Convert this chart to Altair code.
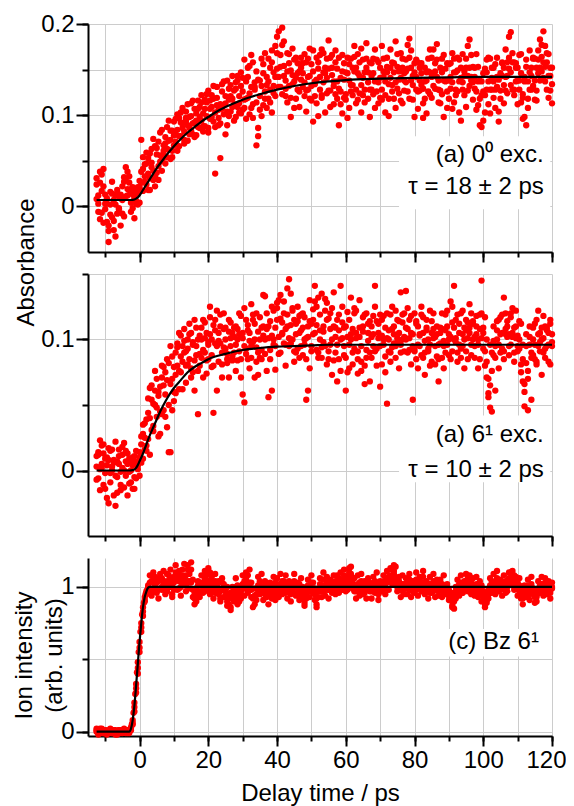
import altair as alt
import pandas as pd

# ---------------- data ----------------
# pump-probe delay grid (ps), shared by all three traces
delay_ps = [
    -12.5, -12, -11.5, -11, -10.5, -10, -9.5, -9, -8.5, -8, -7.5, -7, -6.5, -6, -5.5, -5, -4.5, -4, -3.5, -3,
    -2.5, -2, -1.5, -1, -0.5, 0, 0.5, 1, 1.5, 2, 2.5, 3, 3.5, 4, 4.5, 5, 5.5, 6, 6.5, 7,
    7.5, 8, 8.5, 9, 9.5, 10, 10.5, 11, 11.5, 12, 12.5, 13, 13.5, 14, 14.5, 15, 15.5, 16, 16.5, 17,
    17.5, 18, 18.5, 19, 19.5, 20, 20.5, 21, 21.5, 22, 22.5, 23, 23.5, 24, 24.5, 25, 25.5, 26, 26.5, 27,
    27.5, 28, 28.5, 29, 29.5, 30, 30.5, 31, 31.5, 32, 32.5, 33, 33.5, 34, 34.5, 35, 35.5, 36, 36.5, 37,
    37.5, 38, 38.5, 39, 39.5, 40, 40.5, 41, 41.5, 42, 42.5, 43, 43.5, 44, 44.5, 45, 45.5, 46, 46.5, 47,
    47.5, 48, 48.5, 49, 49.5, 50, 50.5, 51, 51.5, 52, 52.5, 53, 53.5, 54, 54.5, 55, 55.5, 56, 56.5, 57,
    57.5, 58, 58.5, 59, 59.5, 60, 60.5, 61, 61.5, 62, 62.5, 63, 63.5, 64, 64.5, 65, 65.5, 66, 66.5, 67,
    67.5, 68, 68.5, 69, 69.5, 70, 70.5, 71, 71.5, 72, 72.5, 73, 73.5, 74, 74.5, 75, 75.5, 76, 76.5, 77,
    77.5, 78, 78.5, 79, 79.5, 80, 80.5, 81, 81.5, 82, 82.5, 83, 83.5, 84, 84.5, 85, 85.5, 86, 86.5, 87,
    87.5, 88, 88.5, 89, 89.5, 90, 90.5, 91, 91.5, 92, 92.5, 93, 93.5, 94, 94.5, 95, 95.5, 96, 96.5, 97,
    97.5, 98, 98.5, 99, 99.5, 100, 100.5, 101, 101.5, 102, 102.5, 103, 103.5, 104, 104.5, 105, 105.5, 106, 106.5, 107,
    107.5, 108, 108.5, 109, 109.5, 110, 110.5, 111, 111.5, 112, 112.5, 113, 113.5, 114, 114.5, 115, 115.5, 116, 116.5, 117,
    117.5, 118, 118.5, 119, 119.5, 120,
]

# (a) 0^0 excitation, absorbance in units of 1e-3 (three scans)
abs00_scan1 = [
    31, 12, 38, -7, 22, 3, -17, -39, -9, 14, -26, 2, -8, 11, -21, 7, 27, 43, 19, 33,
    4, 21, -13, 14, 2, 28, 73, 17, 46, 24, 53, 31, 63, 39, 22, 57, 44, 81, 51, 67,
    47, 87, 62, 73, 54, 93, 71, 61, 97, 77, 86, 69, 104, 89, 79, 113, 91, 76, 102, 87,
    109, 94, 82, 117, 99, 86, 107, 122, 93, 36, 111, 97, 53, 126, 101, 113, 89, 129, 104, 118,
    94, 136, 109, 121, 102, 141, 117, 96, 152, 124, 108, 158, 131, 67, 86, 121, 99, 146, 126, 108,
    162, 128, 103, 147, 176, 151, 192, 166, 123, 181, 138, 114, 157, 98, 134, 161, 118, 146, 109, 152,
    131, 167, 104, 142, 118, 156, 93, 137, 113, 151, 166, 122, 147, 103, 162, 182, 127, 152, 112, 171,
    118, 89, 141, 102, 157, 123, 146, 108, 162, 133, 176, 152, 117, 143, 103, 161, 128, 179, 147, 98,
    157, 123, 172, 138, 113, 152, 128, 162, 103, 147, 118, 172, 133, 157, 108, 167, 139, 116, 152, 127,
    161, 177, 184, 138, 117, 157, 128, 107, 152, 133, 97, 118, 147, 162, 123, 142, 172, 148, 178, 128,
    113, 147, 98, 137, 157, 118, 142, 107, 162, 128, 149, 103, 141, 167, 122, 152, 176, 183, 138, 117,
    152, 106, 137, 89, 87, 126, 103, 147, 112, 162, 128, 152, 108, 142, 93, 118, 157, 133, 172, 143,
    186, 191, 158, 128, 152, 112, 138, 167, 123, 98, 89, 108, 147, 128, 162, 117, 152, 171, 138, 177,
    192, 153, 128, 167, 143, 113,
]
abs00_scan2 = [
    8, -6, 26, 35, -18, 13, 3, -27, 16, -12, 7, -33, 14, -3, 9, 22, -11, 29, 12, 18,
    19, -2, 16, 6, 21, 4, 38, 54, 27, 59, 36, 18, 48, 74, 33, 64, 29, 56, 84, 61,
    76, 63, 94, 52, 83, 67, 79, 101, 66, 92, 108, 73, 94, 72, 98, 83, 116, 92, 78, 107,
    86, 114, 102, 88, 123, 81, 116, 98, 132, 87, 119, 106, 91, 134, 111, 79, 138, 99, 121, 143,
    127, 98, 143, 113, 132, 106, 161, 118, 142, 101, 166, 112, 136, 148, 77, 138, 162, 111, 168, 133,
    118, 152, 171, 124, 142, 186, 131, 153, 196, 143, 121, 168, 132, 149, 173, 108, 141, 157, 126, 163,
    146, 121, 158, 128, 173, 116, 148, 134, 163, 99, 142, 119, 168, 146, 124, 151, 109, 166, 137, 123,
    151, 129, 112, 166, 119, 147, 97, 156, 133, 122, 148, 113, 167, 124, 173, 141, 114, 152, 118, 158,
    128, 146, 108, 161, 136, 119, 176, 142, 122, 153, 99, 141, 158, 118, 181, 129, 148, 168, 113, 146,
    136, 151, 118, 171, 143, 98, 142, 158, 127, 146, 113, 137, 102, 148, 172, 119, 146, 129, 161, 114,
    152, 123, 166, 138, 108, 156, 129, 168, 114, 147, 126, 161, 94, 136, 148, 109, 143, 132, 166, 153,
    129, 167, 111, 138, 122, 94, 151, 128, 163, 102, 141, 119, 156, 131, 104, 146, 158, 113, 142, 124,
    151, 133, 168, 122, 157, 138, 166, 114, 96, 137, 153, 118, 171, 143, 132, 162, 116, 146, 183, 148,
    141, 176, 158, 119, 152, 134,
]
abs00_scan3 = [
    24, 3, -14, 17, 41, -3, 9, -21, 2, 27, -16, 12, 18, -2, 13, -8, 32, 11, 38, 26,
    -6, 13, 9, 3, 16, 21, 26, 41, 33, 47, 18, 58, 43, 29, 66, 37, 71, 49, 39, 57,
    69, 54, 72, 83, 61, 78, 96, 84, 77, 103, 91, 82, 97, 112, 86, 99, 79, 107, 94, 116,
    98, 122, 88, 107, 114, 127, 96, 109, 118, 103, 131, 89, 112, 107, 137, 121, 104, 117, 133, 109,
    112, 129, 138, 103, 147, 126, 108, 137, 119, 154, 131, 97, 128, 114, 139, 106, 132, 156, 118, 142,
    137, 114, 158, 132, 121, 168, 142, 131, 177, 154, 129, 148, 167, 119, 144, 137, 163, 128, 148, 139,
    157, 136, 127, 162, 143, 132, 171, 121, 139, 158, 128, 172, 136, 152, 141, 127, 163, 144, 132, 158,
    137, 163, 126, 148, 139, 117, 163, 138, 126, 152, 164, 128, 146, 158, 133, 122, 147, 162, 136, 128,
    143, 162, 137, 126, 158, 141, 117, 148, 137, 163, 134, 152, 126, 147, 136, 153, 124, 141, 162, 138,
    148, 126, 163, 152, 133, 147, 161, 126, 138, 157, 129, 152, 138, 126, 147, 163, 132, 157, 142, 138,
    127, 162, 138, 151, 126, 138, 157, 136, 147, 122, 163, 137, 152, 128, 143, 162, 127, 152, 142, 136,
    142, 126, 153, 118, 137, 146, 122, 161, 137, 128, 152, 137, 128, 163, 139, 127, 143, 152, 127, 158,
    163, 147, 128, 158, 137, 152, 128, 146, 119, 142, 161, 137, 128, 152, 163, 138, 127, 161, 152, 164,
    158, 137, 168, 143, 127, 152,
]

# (a) 6^1 excitation, absorbance in units of 1e-3 (three scans)
abs61_scan1 = [
    11, -6, 23, 2, 13, -14, 4, 17, -9, 3, -19, -27, 7, 16, -11, 2, 21, -4, 13, -1,
    7, -14, 11, -6, 4, 14, 26, 9, 36, 19, 44, 63, 31, 51, 76, 41, 57, 28, 71, 46,
    58, 33, 82, 14, 87, 53, 73, 97, 62, 103, 83, 108, 67, 93, 112, 78, 98, 61, 88, 43,
    103, 86, 92, 113, 74, 98, 117, 88, 44, 107, 122, 83, 97, 71, 108, 93, 82, 106, 113, 87,
    102, 76, 108, 91, 118, 58, 52, 93, 107, 78, 127, 98, 112, 83, 73, 117, 92, 103, 133, 108,
    56, 92, 103, 122, 77, 128, 102, 134, 113, 97, 108, 139, 146, 97, 122, 83, 112, 93, 118, 107,
    88, 117, 54, 102, 78, 112, 123, 141, 92, 132, 107, 86, 98, 122, 128, 91, 108, 73, 136, 102,
    68, 107, 141, 113, 88, 61, 102, 78, 132, 108, 93, 122, 74, 102, 83, 117, 66, 92, 112, 68,
    102, 118, 141, 93, 112, 64, 103, 118, 87, 51, 107, 83, 108, 97, 122, 98, 78, 136, 113, 102,
    137, 108, 92, 118, 54, 93, 112, 78, 103, 88, 117, 73, 107, 93, 122, 83, 108, 102, 87, 68,
    97, 108, 78, 107, 122, 88, 102, 113, 141, 98, 83, 112, 93, 122, 78, 107, 113, 127, 88, 112,
    102, 118, 78, 108, 145, 93, 117, 83, 59, 48, 45, 88, 61, 107, 78, 117, 93, 132, 108, 102,
    88, 117, 102, 83, 122, 103, 93, 112, 68, 49, 82, 46, 102, 54, 88, 112, 83, 122, 98, 73,
    118, 93, 107, 83, 112, 98,
]
abs61_scan2 = [
    -7, 14, 1, 19, -11, 9, -21, 8, -2, 16, 6, -4, -17, 11, -1, 18, -13, 7, -19, 9,
    -9, 4, -14, 7, 1, -4, 6, 28, 16, 39, 24, 12, 54, 34, 61, 48, 26, 64, 43, 79,
    41, 69, 14, 66, 46, 79, 59, 94, 76, 87, 62, 99, 91, 81, 104, 71, 96, 84, 109, 76,
    89, 109, 71, 101, 84, 96, 104, 79, 111, 97, 61, 99, 119, 81, 94, 109, 89, 71, 101, 84,
    109, 96, 84, 104, 71, 101, 124, 89, 111, 99, 86, 119, 71, 94, 106, 86, 109, 134, 89, 76,
    101, 114, 61, 96, 109, 124, 89, 116, 104, 129, 96, 119, 101, 111, 124, 91, 104, 114, 86, 119,
    109, 96, 101, 61, 114, 91, 104, 129, 111, 86, 119, 94, 106, 131, 81, 116, 96, 124, 84, 109,
    96, 119, 76, 101, 109, 86, 121, 96, 104, 81, 124, 101, 91, 109, 76, 106, 119, 86, 99, 114,
    86, 104, 91, 114, 101, 119, 81, 96, 109, 101, 91, 119, 94, 104, 86, 101, 114, 96, 119, 91,
    109, 124, 101, 81, 104, 91, 114, 96, 104, 119, 86, 99, 109, 91, 96, 114, 101, 81, 104, 96,
    109, 86, 99, 119, 96, 104, 129, 91, 109, 101, 119, 96, 86, 104, 109, 91, 101, 109, 96, 114,
    86, 104, 96, 119, 101, 109, 91, 71, 56, 96, 76, 99, 86, 114, 96, 104, 119, 91, 104, 114,
    104, 96, 124, 109, 101, 91, 114, 81, 96, 66, 104, 76, 96, 86, 109, 96, 81, 104, 91, 109,
    101, 86, 109, 96, 81, 104,
]
abs61_scan3 = [
    3, 12, -15, 5, 20, -2, 10, -25, 15, 0, 8, 22, -5, 5, -15, 12, 0, 15, 5, -10,
    0, 10, -5, 15, 5, 10, 20, 35, 25, 15, 55, 40, 65, 30, 50, 70, 60, 45, 80, 65,
    75, 85, 50, 95, 70, 60, 90, 80, 105, 75, 95, 90, 80, 100, 85, 105, 75, 115, 95, 100,
    80, 100, 115, 90, 105, 85, 125, 100, 80, 115, 95, 105, 110, 90, 120, 100, 85, 115, 95, 105,
    90, 110, 100, 120, 85, 105, 95, 115, 85, 105, 95, 115, 100, 120, 90, 100, 85, 110, 100, 120,
    110, 85, 125, 100, 95, 115, 130, 90, 105, 120, 80, 110, 95, 135, 100, 115, 90, 125, 105, 95,
    120, 100, 85, 110, 130, 95, 115, 105, 125, 90, 100, 135, 110, 95, 115, 85, 120, 100, 110, 90,
    115, 85, 100, 125, 95, 110, 75, 115, 100, 90, 120, 105, 85, 130, 95, 110, 80, 120, 105, 90,
    110, 95, 125, 80, 105, 95, 115, 100, 75, 120, 100, 90, 125, 110, 95, 115, 105, 90, 100, 120,
    100, 90, 115, 105, 95, 120, 85, 110, 95, 125, 105, 90, 115, 100, 80, 105, 120, 95, 110, 85,
    105, 120, 95, 90, 110, 100, 85, 125, 100, 115, 90, 105, 120, 95, 100, 115, 85, 105, 120, 100,
    95, 110, 100, 85, 120, 105, 80, 100, 70, 65, 90, 110, 95, 100, 115, 90, 105, 85, 120, 110,
    95, 120, 105, 90, 110, 95, 100, 75, 85, 60, 95, 70, 110, 90, 100, 85, 115, 95, 105, 100,
    90, 110, 95, 105, 115, 95,
]

# (c) Bz 6^1 ion signal, in percent of the plateau (three scans)
ion_scan1 = [
    2, 0, 1, -1, 1, 0, -2, 0, 1, -1, 0, 1, 0, -1, 1, 0, 0, -1, 1, 1,
    3, 8, 20, 33, 48, 62, 75, 86, 93, 97, 100, 103, 98, 105, 101, 96, 104, 99, 106, 102,
    98, 104, 108, 100, 95, 103, 110, 106, 99, 104, 112, 107, 101, 115, 109, 103, 98, 92, 90, 96,
    101, 97, 103, 99, 108, 104, 110, 102, 98, 104, 100, 95, 97, 103, 99, 94, 100, 88, 84, 92,
    96, 100, 93, 90, 97, 102, 99, 105, 108, 103, 98, 92, 88, 95, 101, 104, 99, 96, 101, 98,
    94, 97, 92, 100, 103, 99, 96, 102, 98, 104, 101, 97, 99, 95, 101, 104, 100, 96, 102, 98,
    95, 89, 92, 98, 101, 97, 103, 99, 88, 93, 97, 101, 105, 99, 103, 98, 101, 96, 100, 104,
    102, 106, 99, 104, 108, 103, 101, 110, 114, 105, 100, 97, 102, 98, 104, 100, 96, 101, 99, 103,
    97, 101, 104, 98, 95, 100, 103, 99, 102, 106, 104, 108, 112, 115, 106, 103, 101, 98, 102, 99,
    101, 104, 98, 102, 97, 100, 105, 101, 99, 103, 107, 100, 98, 102, 96, 101, 104, 99, 101, 97,
    99, 102, 96, 100, 95, 98, 92, 86, 90, 97, 100, 98, 103, 101, 99, 104, 106, 100, 103, 98,
    101, 97, 100, 95, 99, 93, 88, 94, 98, 101, 104, 100, 103, 106, 101, 98, 102, 99, 104, 100,
    106, 110, 104, 108, 102, 99, 101, 97, 92, 96, 100, 94, 98, 102, 99, 93, 90, 96, 100, 102,
    98, 103, 100, 97, 101, 99,
]
ion_scan2 = [
    0, -1, 2, 0, -1, 1, 0, 1, -1, 0, 1, -2, 0, 1, -1, 0, 1, 0, -1, 0,
    1, 5, 14, 27, 40, 55, 69, 80, 90, 95, 99, 97, 104, 99, 107, 103, 98, 106, 100, 104,
    103, 97, 101, 106, 102, 98, 105, 109, 104, 100, 106, 103, 108, 104, 99, 112, 105, 95, 99, 101,
    96, 103, 100, 106, 101, 97, 104, 99, 103, 96, 101, 98, 92, 99, 102, 97, 90, 95, 96, 100,
    98, 95, 101, 97, 94, 99, 104, 101, 96, 100, 103, 99, 94, 91, 98, 102, 97, 100, 95, 101,
    99, 96, 101, 97, 95, 102, 100, 97, 104, 99, 96, 101, 103, 98, 96, 100, 102, 99, 95, 100,
    100, 96, 94, 101, 97, 103, 99, 95, 92, 98, 102, 99, 97, 101, 98, 103, 99, 102, 97, 101,
    99, 103, 105, 100, 104, 107, 98, 104, 108, 102, 97, 101, 98, 103, 100, 96, 102, 98, 101, 97,
    101, 98, 100, 103, 99, 97, 101, 104, 99, 103, 107, 104, 102, 109, 103, 100, 104, 101, 97, 102,
    99, 102, 105, 99, 101, 104, 98, 102, 106, 100, 97, 103, 101, 98, 102, 99, 97, 102, 98, 100,
    103, 98, 101, 97, 99, 94, 96, 90, 94, 100, 97, 102, 99, 96, 101, 98, 102, 104, 99, 101,
    98, 102, 96, 99, 101, 96, 92, 91, 95, 99, 97, 103, 100, 98, 104, 102, 99, 103, 100, 97,
    103, 106, 101, 104, 99, 103, 97, 100, 95, 99, 96, 101, 97, 100, 96, 98, 94, 99, 102, 98,
    101, 97, 102, 99, 96, 100,
]
ion_scan3 = [
    1, -2, 0, 2, -1, 1, -1, 0, 2, -1, 1, 0, -2, 1, 0, -1, 2, 0, 1, -1,
    2, 6, 17, 30, 44, 58, 72, 83, 91, 96, 101, 108, 94, 110, 97, 104, 92, 109, 98, 111,
    95, 109, 103, 112, 93, 107, 115, 98, 111, 94, 108, 116, 97, 112, 104, 117, 93, 88, 95, 104,
    93, 108, 96, 111, 99, 113, 95, 107, 92, 109, 96, 104, 90, 106, 93, 99, 87, 92, 86, 95,
    90, 106, 88, 97, 92, 108, 94, 110, 97, 112, 93, 86, 92, 99, 107, 95, 109, 91, 104, 93,
    88, 103, 95, 107, 91, 106, 93, 109, 95, 100, 108, 92, 104, 90, 97, 109, 94, 103, 91, 106,
    92, 87, 98, 105, 93, 108, 96, 91, 86, 97, 106, 93, 110, 94, 107, 92, 105, 97, 108, 95,
    108, 96, 110, 98, 112, 97, 107, 113, 109, 99, 106, 92, 108, 94, 109, 95, 104, 92, 106, 98,
    92, 107, 96, 110, 91, 104, 97, 108, 95, 111, 98, 113, 106, 111, 114, 97, 107, 93, 108, 95,
    106, 95, 109, 93, 104, 96, 110, 94, 107, 97, 111, 95, 104, 92, 107, 96, 109, 93, 105, 94,
    105, 93, 108, 95, 102, 91, 96, 87, 85, 92, 105, 94, 108, 96, 104, 109, 97, 108, 95, 106,
    94, 107, 93, 104, 90, 97, 86, 89, 92, 106, 96, 109, 95, 111, 97, 105, 94, 108, 96, 104,
    110, 104, 111, 98, 107, 94, 106, 92, 88, 101, 93, 105, 91, 107, 95, 89, 93, 104, 96, 107,
    94, 106, 95, 104, 92, 103,
]
# extra points on the steep ion rise
ion_rise_delay = [-2.75, -2.25, -1.75, -1.25, -0.75, -0.25, 0.25, 0.75, 1.25, 1.75, 2.25]
ion_rise_pct = [1, 5, 13, 26, 41, 55, 69, 81, 89, 95, 98]

# fitted curves
fit_delay = [-12.5, -3, -2, -1, 0, 1, 2, 3, 4, 5, 6, 8, 10, 12, 14, 16, 18, 20, 22, 25,
             28, 30, 35, 40, 45, 50, 55, 60, 70, 80, 90, 100, 110, 120]
fit00 = [7, 7, 7.2, 8.5, 12, 18, 24, 30, 36, 42, 47, 57, 66, 74, 81, 87, 93, 98, 103, 109,
         114, 117, 123, 128, 132, 135, 137, 138.5, 140, 141, 141.5, 142, 142, 142]
fit61 = [0, 0, 0.3, 2, 7, 13, 20, 27, 33, 39, 45, 55, 63, 69, 75, 79, 82, 85, 87, 89,
         91, 92, 93.5, 94.5, 95, 95.5, 96, 96, 96, 96, 96, 96, 96, 96]
fit_ion_delay = [-12.5, -3, -2.5, -2, -1.5, -1, -0.5, 0, 0.5, 1, 1.5, 2, 2.5, 3, 120]
fit_ion = [0, 0, 2, 8, 18, 32, 47, 62, 75, 86, 93, 97, 99.5, 100, 100]

# annotation texts
notes_a = ["(a) 0\u2070 exc.", "\u03c4 = 18 \u00b1 2 ps"]
notes_b = ["(a) 6\u00b9 exc.", "\u03c4 = 10 \u00b1 2 ps"]
notes_c = ["(c) Bz 6\u00b9"]

assert len(delay_ps) == 266
for s in (abs00_scan1, abs00_scan2, abs00_scan3, abs61_scan1, abs61_scan2,
          abs61_scan3, ion_scan1, ion_scan2, ion_scan3):
    assert len(s) == 266, len(s)

# ---------------- styling ----------------
FONT = "Liberation Sans"
RED = "#ff0000"
GRIDC = "#cccccc"
FS = 24
X_DOMAIN = [-15, 120]
X_GRID = [-10, 0, 10, 20, 30, 40, 50, 60, 70, 80, 90, 100, 110, 120]
X_MAJOR = [0, 20, 40, 60, 80, 100, 120]
W = 464


def scans_df(delays, scans, factor, extra=None):
    rows = []
    for s in scans:
        for t, v in zip(delays, s):
            rows.append({"t": t, "v": v * factor})
    if extra:
        for t, v in zip(extra[0], extra[1]):
            rows.append({"t": t, "v": v * factor})
    return pd.DataFrame(rows)


def fit_df(delays, vals, factor):
    return pd.DataFrame({"t": delays, "v": [v * factor for v in vals]})


def panel(pts, fit, ydom, ygrid, ymajor, height, notes, note_x, note_y, box,
          bottom, ytitle, ytitle_x, ytitle_y):
    xs = alt.Scale(domain=X_DOMAIN, nice=False, zero=False)
    ys = alt.Scale(domain=ydom, nice=False, zero=False)
    lab = dict(labelFont=FONT, labelFontSize=FS, labelColor="black",
               tickColor="black", tickWidth=2, labelOverlap=False)
    x_minor = alt.Axis(orient="bottom", values=X_GRID, grid=True, gridColor=GRIDC,
                       gridWidth=1, tickSize=5, labels=False, domain=True,
                       domainColor="black", domainWidth=2, **lab)
    y_minor = alt.Axis(orient="left", values=ygrid, grid=True, gridColor=GRIDC,
                       gridWidth=1, tickSize=6, labels=False, domain=True,
                       domainColor="black", domainWidth=2, **lab)
    if bottom:
        x_major = alt.Axis(orient="bottom", values=X_MAJOR, grid=False, tickSize=10,
                           domain=False, labels=True, labelPadding=2, format="d",
                           labelFlush=True, labelFlushOffset=14,
                           title="Delay time / ps", titleFont=FONT, titleFontSize=FS,
                           titleFontWeight="normal", titleColor="black", titlePadding=9,
                           **lab)
    else:
        x_major = alt.Axis(orient="bottom", values=X_MAJOR, grid=False, tickSize=10,
                           domain=False, labels=False, **lab)
    yk = dict(orient="left", values=ymajor, grid=False, tickSize=12, domain=False,
              labels=True, labelPadding=2, format="~g", labelFlush=False, **lab)
    if ytitle is not None:
        y_major = alt.Axis(title=ytitle, titleFont=FONT, titleFontSize=FS,
                           titleFontWeight="normal", titleColor="black",
                           titleX=ytitle_x, titleY=ytitle_y, titleAngle=270,
                           titleAlign="center", titleBaseline="middle",
                           titleLineHeight=30, **yk)
    else:
        y_major = alt.Axis(**yk)

    box_layer = alt.Chart(pd.DataFrame([box])).mark_rect(color="white").encode(
        x=alt.X("x0:Q", scale=xs, axis=x_minor, title=None),
        x2="x1:Q",
        y=alt.Y("y0:Q", scale=ys, axis=y_minor, title=None),
        y2="y1:Q",
    )
    pts_layer = alt.Chart(pts).mark_circle(size=40, color=RED, opacity=1).encode(
        x=alt.X("t:Q", scale=xs, axis=x_major, title="Delay time / ps" if bottom else None),
        y=alt.Y("v:Q", scale=ys, axis=y_major, title=ytitle),
    )
    fit_layer = alt.Chart(fit).mark_line(color="black", strokeWidth=2.2,
                                         interpolate="monotone").encode(
        x=alt.X("t:Q", scale=xs, axis=None),
        y=alt.Y("v:Q", scale=ys, axis=None),
    )
    note_df = pd.DataFrame({"label": notes, "nx": [note_x] * len(notes), "ny": note_y})
    text_layer = alt.Chart(note_df).mark_text(
        align="right", baseline="middle", font=FONT, fontSize=FS, color="black"
    ).encode(
        x=alt.X("nx:Q", scale=xs, axis=None),
        y=alt.Y("ny:Q", scale=ys, axis=None),
        text="label:N",
    )
    return alt.layer(box_layer, pts_layer, fit_layer, text_layer).resolve_axis(
        x="independent", y="independent"
    ).properties(width=W, height=height)


p1 = panel(
    scans_df(delay_ps, [abs00_scan1, abs00_scan2, abs00_scan3], 0.001),
    fit_df(fit_delay, fit00, 0.001),
    [-0.05, 0.2], [0, 0.05, 0.1, 0.15, 0.2], [0, 0.1, 0.2], 228,
    notes_a, 117.6, [0.0565, 0.0217],
    {"x0": 75.5, "x1": 119.5, "y0": -0.003, "y1": 0.077},
    False, None, 0, 0,
)
p2 = panel(
    scans_df(delay_ps, [abs61_scan1, abs61_scan2, abs61_scan3], 0.001),
    fit_df(fit_delay, fit61, 0.001),
    [-0.05, 0.15], [0, 0.05, 0.1, 0.15], [0, 0.1], 262,
    notes_b, 117.6, [0.027, 0.0005],
    {"x0": 75.5, "x1": 119.5, "y0": -0.009, "y1": 0.042},
    False, "Absorbance", -62, -12,
)
p3 = panel(
    scans_df(delay_ps, [ion_scan1, ion_scan2, ion_scan3], 0.01,
             (ion_rise_delay, ion_rise_pct)),
    fit_df(fit_ion_delay, fit_ion, 0.01),
    [-0.03, 1.2], [0, 0.5, 1], [0, 1], 178,
    notes_c, 116.2, [0.62],
    {"x0": 87.5, "x1": 118.5, "y0": 0.52, "y1": 0.71},
    True, ["Ion intensity", "(arb. units)"], -64, 97,
)

chart = alt.vconcat(p1, p2, p3, spacing=22, bounds="flush").properties(
    padding={"left": 4, "top": 4, "right": 0, "bottom": 2},
    background="white",
).configure_view(stroke=None)

chart.save("out.html", embed_options={"renderer": "svg", "actions": False})
